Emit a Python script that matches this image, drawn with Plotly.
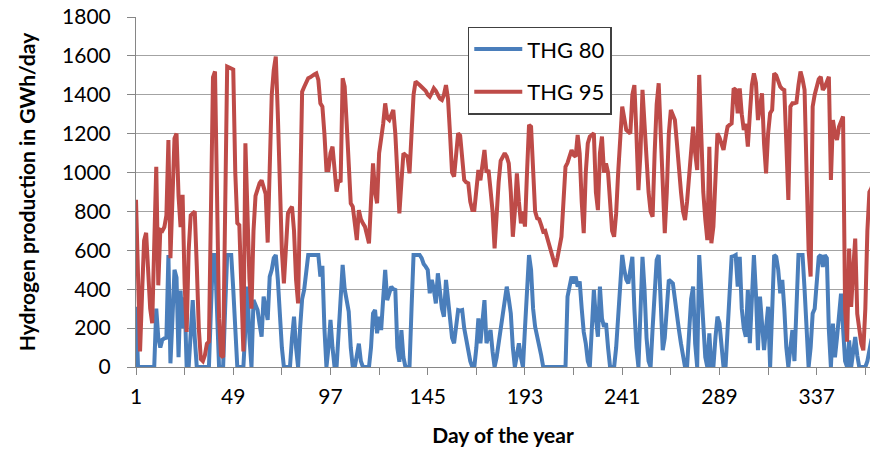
import plotly.graph_objects as go

days = list(range(1, 366))

thg95 = [
    860, 420, 80, 380, 650, 690, 480, 300, 225, 620,
    1030, 420, 705, 700, 720, 780, 1167, 560, 900, 1176,
    1200, 880, 720, 885, 430, 180, 600, 780, 790, 800,
    520, 200, 40, 30, 60, 120, 130, 900, 1490, 1520,
    900, 250, 60, 50, 800, 1545, 1540, 1535, 1530, 1000,
    740, 730, 400, 80, 1150, 800, 450, 300, 700, 880,
    920, 945, 960, 920, 890, 640, 1000, 1400, 1527, 1596,
    1300, 900, 600, 430, 600, 790, 810, 825, 700, 450,
    327, 900, 1416, 1440, 1460, 1485, 1490, 1500, 1505, 1510,
    1476, 1356, 1339, 1200, 1013, 1013, 1100, 1133, 1000, 902,
    962, 950, 1485, 1442, 1250, 1082, 842, 825, 739, 653,
    807, 760, 739, 722, 680, 636, 850, 1047, 900, 842,
    1100, 1168, 1250, 1356, 1280, 1270, 1300, 1322, 1200, 950,
    790, 950, 1099, 1090, 1082, 996, 1200, 1400, 1468, 1455,
    1450, 1440, 1433, 1420, 1400, 1390, 1410, 1433, 1420, 1400,
    1380, 1373, 1400, 1450, 1380, 1200, 1000, 979, 1100, 1202,
    1190, 1050, 962, 950, 945, 850, 807, 807, 900, 1013,
    960, 1050, 1116, 1000, 1013, 910, 800, 610, 800, 950,
    1060, 1082, 1099, 1082, 1047, 900, 670, 800, 996, 850,
    739, 800, 722, 1000, 1245, 1236, 1000, 800, 765, 760,
    730, 696, 700, 660, 636, 600, 540, 516, 560, 619,
    670, 850, 1030, 1050, 1080, 1116, 1090, 1082, 1193, 1099,
    850, 688, 1000, 1150, 1185, 1195, 1202, 900, 807, 1100,
    1185, 1000, 1047, 1000, 850, 700, 670, 790, 1000, 1200,
    1339, 1280, 1219, 1210, 1200, 1400, 1450, 1200, 910, 1100,
    1425, 1250, 1050, 900, 800, 773, 1100, 1350, 1459, 1200,
    950, 688, 900, 1200, 1322, 1300, 1270, 1150, 1000, 900,
    800, 756, 850, 1000, 1150, 1236, 1100, 1013, 1502, 1200,
    900, 760, 653, 1133, 636, 722, 950, 1202, 1180, 1150,
    1116, 1180, 1236, 1245, 1253, 1433, 1425, 1305, 1433, 1300,
    1219, 1250, 1133, 1300, 1450, 1510, 1460, 1270, 1350, 1407,
    1150, 996, 1200, 1305, 1322, 1510, 1500, 1470, 1442, 1430,
    1425, 1150, 859, 1339, 1356, 1356, 1360, 1450, 1519, 1480,
    1425, 1000, 600, 465, 1339, 1400, 1450, 1480, 1493, 1425,
    1440, 1470, 1493, 962, 1270, 1200, 1168, 1236, 1260, 1288,
    300, 130, 609, 309, 500, 660, 274, 200, 120, 86,
    300, 700, 900, 920, 950,
]

thg80 = [
    310, 0, 0, 0, 0, 0, 0, 0, 0, 0,
    300, 150, 100, 140, 147, 150, 576, 19, 250, 500,
    460, 50, 393, 200, 358, 0, 0, 150, 344, 150,
    0, 0, 0, 0, 0, 0, 0, 300, 576, 576,
    200, 0, 0, 0, 300, 576, 576, 576, 400, 150,
    0, 0, 0, 0, 200, 413, 150, 0, 344, 310,
    293, 220, 156, 362, 300, 242, 465, 500, 560, 576,
    450, 250, 100, 0, 0, 0, 0, 150, 259, 100,
    0, 200, 350, 396, 500, 576, 576, 576, 576, 576,
    576, 465, 520, 200, 0, 100, 242, 100, 0, 0,
    200, 400, 525, 400, 344, 285, 100, 0, 0, 60,
    120, 30, 0, 0, 0, 0, 100, 276, 293, 173,
    259, 190, 350, 499, 344, 380, 413, 400, 396, 100,
    27, 190, 50, 0, 0, 0, 300, 576, 576, 576,
    576, 560, 530, 516, 499, 379, 448, 400, 327, 482,
    400, 300, 259, 448, 350, 250, 150, 122, 200, 293,
    290, 293, 200, 139, 80, 30, 0, 0, 100, 250,
    122, 250, 344, 122, 150, 190, 80, 0, 50, 120,
    190, 293, 350, 413, 350, 276, 100, 0, 60, 122,
    50, 0, 200, 450, 576, 500, 300, 207, 160, 122,
    60, 0, 0, 0, 0, 0, 0, 0, 0, 0,
    0, 0, 0, 362, 430, 465, 430, 465, 413, 440,
    300, 180, 122, 30, 0, 200, 396, 250, 156, 413,
    250, 207, 225, 100, 0, 0, 0, 100, 259, 450,
    576, 500, 450, 430, 500, 567, 300, 100, 0, 250,
    567, 400, 150, 30, 0, 200, 400, 550, 576, 350,
    87, 150, 300, 448, 440, 430, 350, 250, 190, 120,
    60, 0, 0, 200, 350, 413, 120, 0, 576, 400,
    200, 50, 0, 173, 0, 0, 150, 259, 225, 100,
    0, 0, 200, 400, 567, 570, 576, 413, 567, 300,
    200, 156, 396, 122, 400, 576, 379, 87, 362, 200,
    87, 200, 310, 0, 300, 576, 567, 500, 379, 448,
    300, 100, 0, 100, 190, 30, 300, 576, 576, 576,
    400, 150, 0, 100, 275, 300, 450, 566, 576, 515,
    576, 560, 190, 0, 223, 50, 150, 250, 377, 200,
    30, 0, 137, 0, 100, 154, 60, 0, 0, 0,
    0, 30, 100, 140, 150,
]

x_tick_vals = list(range(1, 366, 24))
x_tick_labels = [str(v) if (v - 1) % 48 == 0 else "" for v in x_tick_vals]
y_tick_vals = list(range(0, 1801, 200))

FONT = "Lato"
GRID = "#a3a3a3"
AXIS = "#868686"

fig = go.Figure()
fig.add_trace(go.Scatter(x=days, y=thg80, mode="lines", name="THG 80",
                         legendgroup="a",
                         line=dict(color="#4a7ebb", width=4)))
fig.add_trace(go.Scatter(x=days, y=thg95, mode="lines", name="THG 95",
                         legendgroup="b",
                         line=dict(color="#be4b48", width=4)))

fig.update_layout(
    width=870, height=450,
    margin=dict(l=136, r=0, t=17, b=83, autoexpand=False),
    paper_bgcolor="white", plot_bgcolor="white",
    font=dict(family=FONT, size=21, color="black"),
    showlegend=True,
    legend=dict(x=0.452, y=0.972, xanchor="left", yanchor="top",
                bgcolor="white", bordercolor="#404040", borderwidth=1.5,
                font=dict(family=FONT, size=22, color="black"),
                traceorder="grouped", tracegroupgap=11, itemwidth=48),
    xaxis=dict(range=[1, 363.3], tickmode="array", tickvals=x_tick_vals,
               ticktext=x_tick_labels, ticks="outside", ticklen=7,
               tickcolor=AXIS, showline=True, linecolor=AXIS, linewidth=1,
               showgrid=False, zeroline=False, ticklabelstandoff=4,
               automargin=False,
               title=dict(text="<b>Day of the year</b>", standoff=21,
                          font=dict(family=FONT, size=21))),
    yaxis=dict(range=[0, 1800], tickmode="array", tickvals=y_tick_vals,
               ticks="outside", ticklen=8, tickcolor=AXIS,
               showline=True, linecolor=AXIS, linewidth=1,
               showgrid=True, gridcolor=GRID, gridwidth=1, zeroline=False,
               ticklabelstandoff=12, automargin=False,
               title=dict(text="<b>Hydrogen production in GWh/day</b>",
                          standoff=20, font=dict(family=FONT, size=21))),
)

# remove the browser's default 8px page margin so the figure sits at (0, 0)
fig.write_html("out.html", config={"displayModeBar": False},
               post_script="document.body.style.margin='0';")
